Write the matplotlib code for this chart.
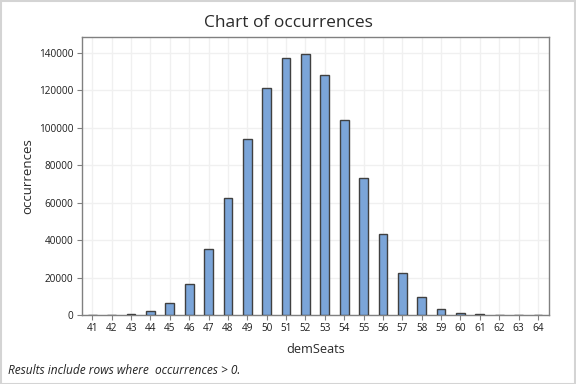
import matplotlib.pyplot as plt
import numpy as np

# values
dem_seats = np.arange(41, 65)
occurrences = np.array([200, 150, 300, 2100, 6300, 16500, 35500, 62500, 94000,
                        121500, 137500, 139500, 128000, 104000, 73000, 43500,
                        22200, 9600, 3200, 1000, 300, 200, 150, 100])
y_ticks = np.arange(0, 140001, 20000)

plt.rcParams['font.family'] = ['Open Sans', 'DejaVu Sans']

fig = plt.figure(figsize=(5.76, 3.84), dpi=100)
ax = fig.add_axes([81.7 / 576, 1 - 315 / 384, (549 - 81.7) / 576, (315 - 37.3) / 384])

ax.bar(dem_seats, occurrences, width=0.45, color='#7ba5d9', edgecolor='#404040',
       linewidth=1.0, zorder=3)

ax.set_xlim(40.45, 64.57)
ax.set_ylim(0, 148400)
ax.set_xticks(dem_seats)
ax.set_yticks(y_ticks)
ax.set_yticklabels([str(v) for v in y_ticks])
ax.tick_params(labelsize=7.2, colors='#1e1e1e', length=3.5, width=0.8, pad=2.5)
ax.tick_params(axis='both', color='#808080')
ax.grid(True, color='#f0f0f0', linewidth=1.0, zorder=0)
for s in ax.spines.values():
    s.set_color('#808080')
    s.set_linewidth(1.0)

ax.set_xlabel('demSeats', fontsize=9.2, color='#2a2a2a', labelpad=6)
ax.set_ylabel('occurrences', fontsize=9.5, color='#2a2a2a', labelpad=3)
fig.suptitle('Chart of occurrences', fontsize=12.5, color='#2a2a2a', x=0.5, y=0.962)

fig.text(8 / 576, 1 - 371 / 384, 'Results include rows where  occurrences > 0.',
         fontsize=8.6, style='italic', color='#222222', va='center')

# light frame round the whole figure
fig.patches.append(plt.Rectangle((0.001, 0.001), 0.997, 0.997, transform=fig.transFigure,
                                 fill=False, edgecolor='#d4d4d4', linewidth=1.5))

fig.savefig('out.png', dpi=100)
